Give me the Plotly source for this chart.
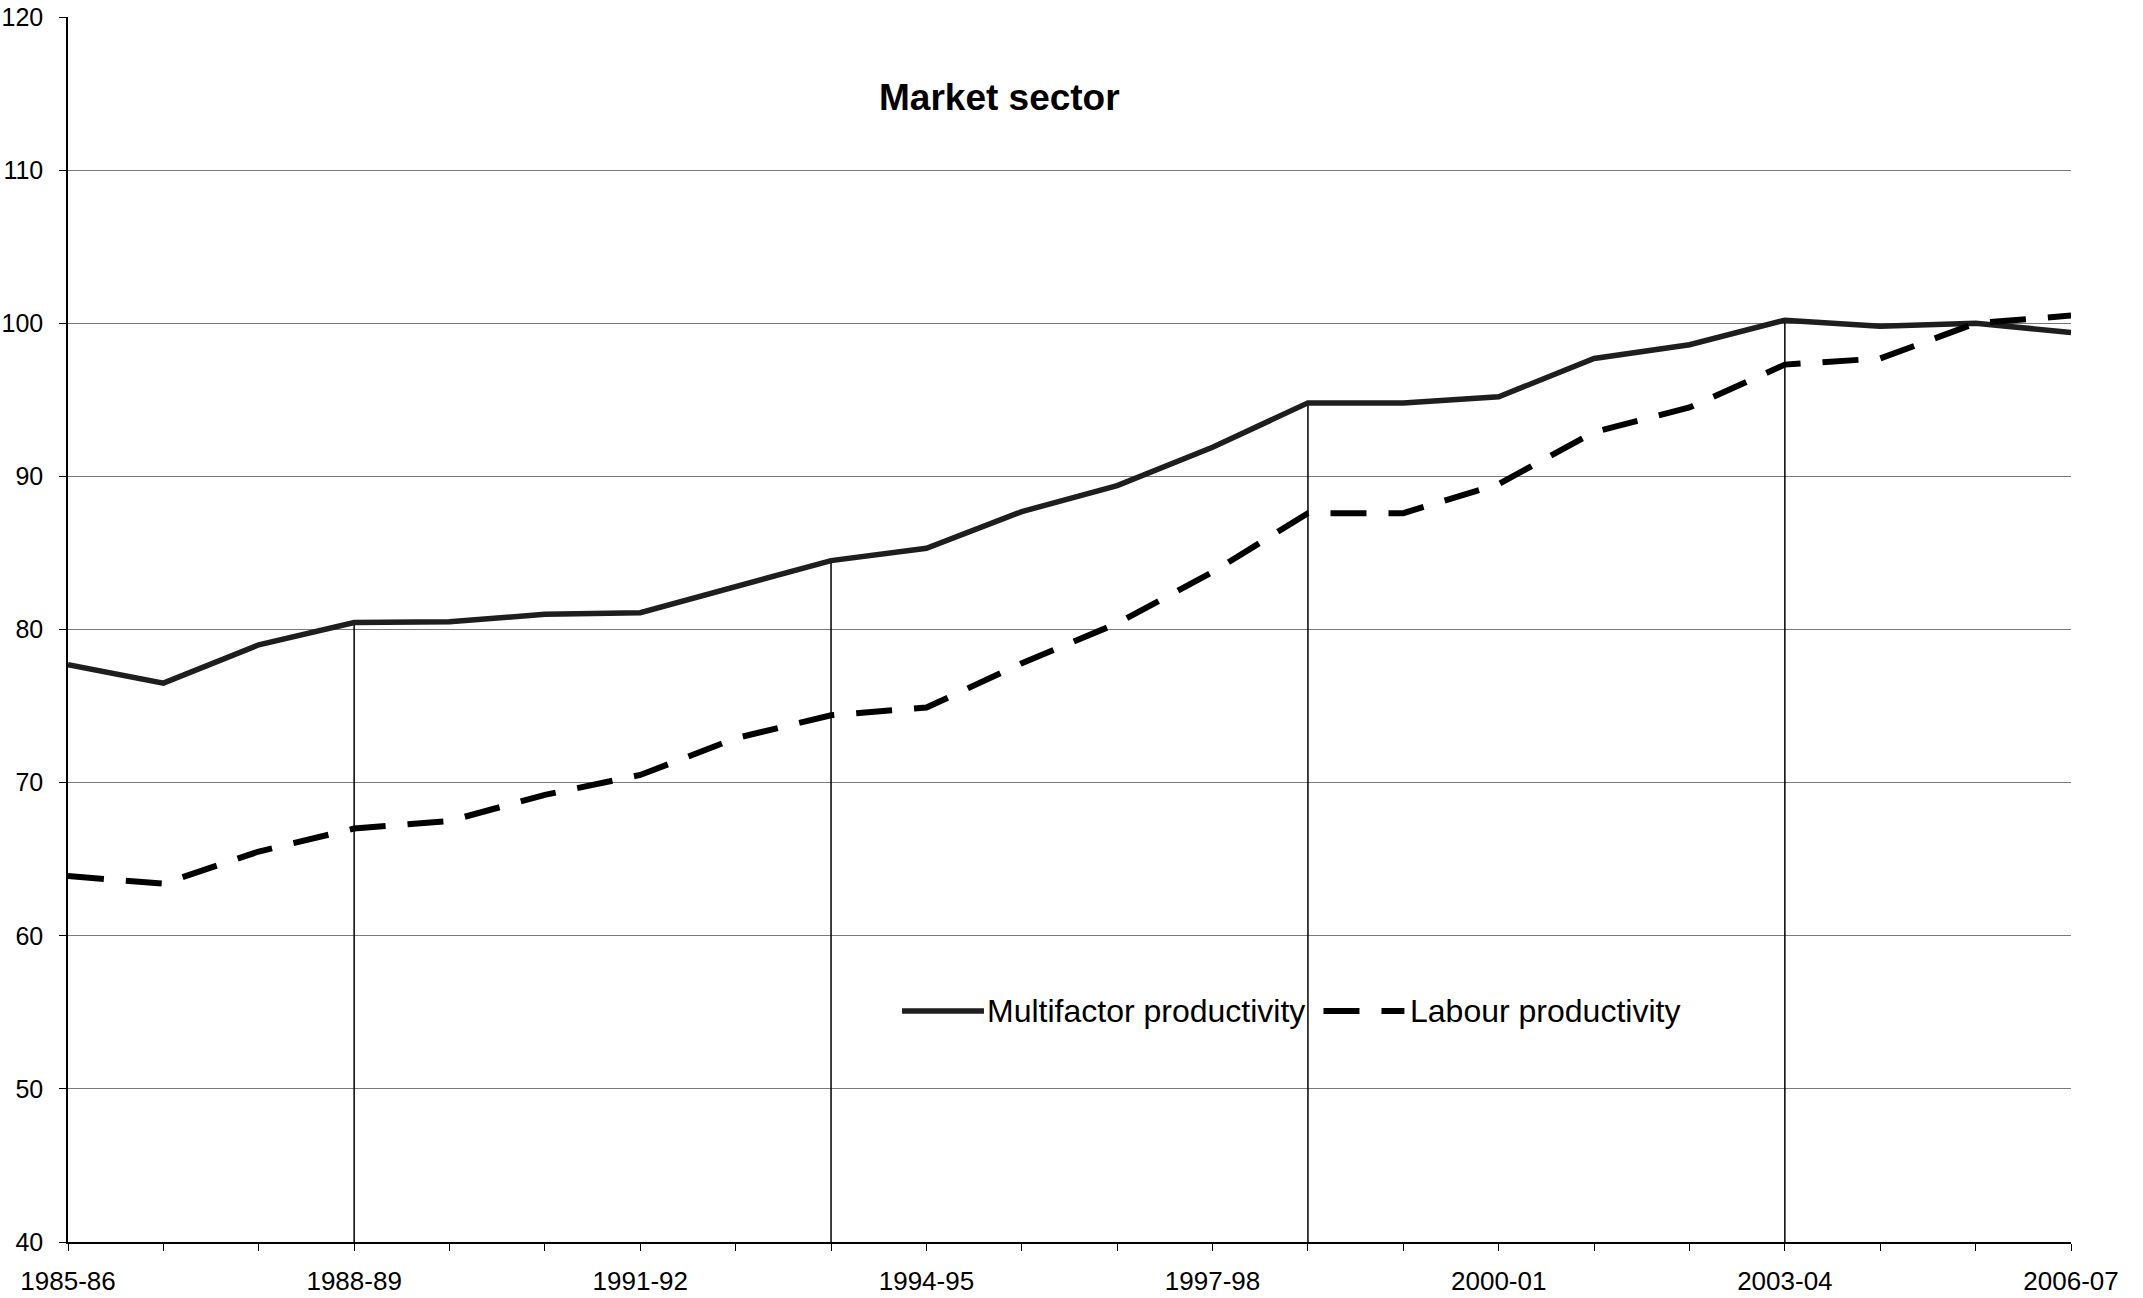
import plotly.graph_objects as go

years = ["1985-86", "1986-87", "1987-88", "1988-89", "1989-90", "1990-91", "1991-92",
         "1992-93", "1993-94", "1994-95", "1995-96", "1996-97", "1997-98", "1998-99",
         "1999-00", "2000-01", "2001-02", "2002-03", "2003-04", "2004-05", "2005-06", "2006-07"]

multifactor = [77.7, 76.5, 79.0, 80.45, 80.5, 81.0, 81.1, 82.8, 84.5, 85.3, 87.7, 89.4,
               91.9, 94.8, 94.8, 95.2, 97.7, 98.6, 100.2, 99.8, 100.0, 99.4]
labour = [63.9, 63.4, 65.5, 67.0, 67.5, 69.2, 70.5, 72.9, 74.4, 74.9, 77.8, 80.4,
          83.75, 87.6, 87.6, 89.5, 92.9, 94.5, 97.3, 97.7, 100.0, 100.5]

cycle_peaks = ["1988-89", "1993-94", "1998-99", "2003-04"]
labelled_years = ["1985-86", "1988-89", "1991-92", "1994-95", "1997-98", "2000-01", "2003-04", "2006-07"]

series_names = ["Multifactor productivity", "Labour productivity"]

y_min, y_max = 40, 120
FONT = "Liberation Sans, Arial, sans-serif"
SOLID_COLOR = "#1e1e1e"
DASH_COLOR = "black"
DASH = "36px,22px"

fig = go.Figure()

# Productivity cycle peak markers (vertical lines from axis floor to MFP value)
vx, vy = [], []
for p in cycle_peaks:
    i = years.index(p)
    vx += [p, p, None]
    vy += [y_min, multifactor[i], None]
fig.add_trace(go.Scatter(x=vx, y=vy, mode="lines", line=dict(color="black", width=1.5),
                         showlegend=False, hoverinfo="skip"))

fig.add_trace(go.Scatter(x=years, y=multifactor, mode="lines", name=series_names[0],
                         line=dict(color=SOLID_COLOR, width=5.5), showlegend=False))
fig.add_trace(go.Scatter(x=years, y=labour, mode="lines", name=series_names[1],
                         line=dict(color=DASH_COLOR, width=6, dash=DASH), showlegend=False))

# Custom legend (long sample lines as in the original)
leg_y = 0.1886
shapes = [
    dict(type="line", xref="paper", yref="paper", x0=0.4164, x1=0.4573, y0=leg_y, y1=leg_y,
         line=dict(color=SOLID_COLOR, width=5.5)),
    dict(type="line", xref="paper", yref="paper", x0=0.6268, x1=0.6672, y0=leg_y, y1=leg_y,
         line=dict(color=DASH_COLOR, width=6, dash=DASH)),
]
annotations = [
    dict(text="<b>Market sector</b>", x=0.465, y=0.934, xref="paper", yref="paper",
         showarrow=False, font=dict(size=37, family=FONT), xanchor="center", yanchor="middle"),
    dict(text=series_names[0], x=0.4600, y=leg_y, xref="paper", yref="paper", showarrow=False,
         font=dict(size=32, family=FONT), xanchor="left", yanchor="middle", xshift=-4),
    dict(text=series_names[1], x=0.6710, y=leg_y, xref="paper", yref="paper", showarrow=False,
         font=dict(size=32, family=FONT), xanchor="left", yanchor="middle", xshift=-4),
]

fig.update_layout(
    width=2143, height=1298,
    margin=dict(l=68, r=72, t=17, b=56),
    paper_bgcolor="white", plot_bgcolor="white",
    font=dict(family=FONT, color="black", size=25),
    showlegend=False,
    shapes=shapes,
    annotations=annotations,
)

fig.update_xaxes(
    type="category", categoryorder="array", categoryarray=years,
    range=[0, len(years) - 1],
    tickmode="array", tickvals=years,
    ticktext=[y if y in labelled_years else "" for y in years],
    ticks="outside", ticklen=7, tickcolor="black", tickwidth=1,
    showline=True, linecolor="black", linewidth=1.5,
    showgrid=False, zeroline=False, automargin=False, ticklabeloverflow="allow",
    tickfont=dict(size=26, family=FONT), ticklabelstandoff=8,
)
fig.update_yaxes(
    range=[y_min, y_max], tickmode="linear", tick0=40, dtick=10,
    ticks="outside", ticklen=7, tickcolor="black", tickwidth=1,
    showline=True, linecolor="black", linewidth=1.5,
    showgrid=True, gridcolor="#7a7a7a", gridwidth=1, zeroline=False, automargin=False,
    ticklabeloverflow="allow",
    tickfont=dict(size=25, family=FONT), ticklabelstandoff=11,
)

# Remove the default page margin so the figure fills the window exactly.
fig.write_html("out.html",
               config={"displayModeBar": False},
               post_script="document.body.style.margin='0';document.body.style.overflow='hidden';")
